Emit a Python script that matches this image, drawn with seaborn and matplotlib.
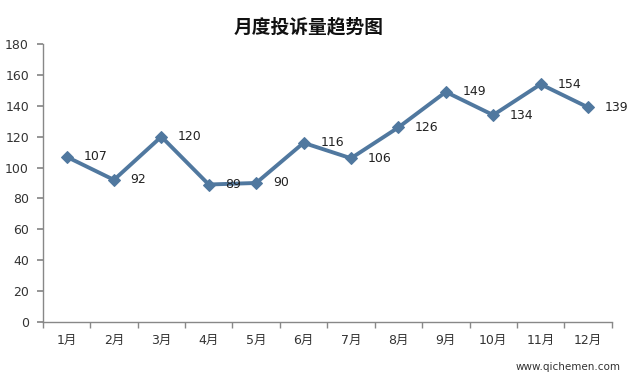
import matplotlib
matplotlib.use("Agg")
import matplotlib.pyplot as plt
import seaborn as sns
import pandas as pd
import numpy as np

months = ["1月", "2月", "3月", "4月", "5月", "6月", "7月", "8月", "9月", "10月", "11月", "12月"]
complaints = [107, 92, 120, 89, 90, 116, 106, 126, 149, 134, 154, 139]
yticks = [0, 20, 40, 60, 80, 100, 120, 140, 160, 180]
title = "月度投诉量趋势图"
watermark = "www.qichemen.com"

sns.set_theme(style="white")
plt.rcParams['font.family'] = ['DejaVu Sans', 'Noto Sans CJK SC']

df = pd.DataFrame({"month": months, "value": complaints})
df["pos"] = np.arange(len(months))

fig = plt.figure(figsize=(6.3, 3.8), dpi=100)
ax = fig.add_axes([0.068, 0.153, 0.903, 0.731])
color = "#50789f"
sns.lineplot(data=df, x="pos", y="value", ax=ax, color=color, linewidth=2.8,
             marker="D", markersize=6.5, markeredgecolor=color, markerfacecolor=color)

for x, y in zip(df["pos"], df["value"]):
    ax.annotate(str(y), (x, y), xytext=(12, 0), textcoords="offset points",
                ha="left", va="center", fontsize=9, color="#222222")

ax.set_xlim(-0.5, len(months) - 0.5)
ax.set_ylim(0, 180)
ax.set_yticks(yticks)
ax.set_yticklabels([str(t) for t in yticks], fontsize=9, color="#333333")
ax.set_xticks(np.arange(len(months)))
ax.set_xticklabels(months, fontsize=9, color="#333333")
ax.tick_params(axis="x", length=0, pad=9)
ax.set_xticks(np.arange(-0.5, len(months), 1), minor=True)
ax.tick_params(axis="x", which="minor", length=4, color="#888888", direction="out", bottom=True)
ax.tick_params(axis="y", length=4, color="#888888", direction="out", left=True, pad=6)
ax.set_xlabel("")
ax.set_ylabel("")
for s in ["top", "right"]:
    ax.spines[s].set_visible(False)
for s in ["left", "bottom"]:
    ax.spines[s].set_color("#888888")
    ax.spines[s].set_linewidth(1)

fig.text(0.49, 0.93, title, ha="center", va="center", fontsize=13.5, fontweight="bold",
         color="#111111", family=['Noto Sans CJK SC', 'DejaVu Sans'])
fig.text(0.985, 0.035, watermark, ha="right", va="center", fontsize=7.5, color="#333333")

fig.savefig("out.png", dpi=100)
